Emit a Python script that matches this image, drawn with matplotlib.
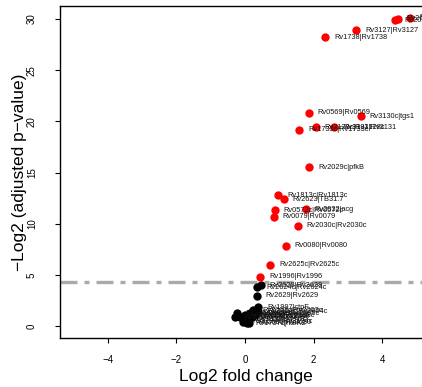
import numpy as np
import matplotlib.pyplot as plt

plt.rcParams['font.family'] = ['Liberation Sans', 'DejaVu Sans']

# significant genes (red)
sig_x = [4.38, 4.44, 4.81, 3.23, 2.33, 1.85, 3.37, 1.57, 2.06, 2.60,
         1.87, 0.97, 1.13, 0.86, 1.77, 0.83, 1.53, 1.18, 0.73, 0.44]
sig_y = [29.9, 30.0, 30.1, 28.9, 28.2, 20.85, 20.5, 19.2, 19.4, 19.4,
         15.5, 12.8, 12.4, 11.3, 11.4, 10.7, 9.8, 7.84, 6.0, 4.82]
sig_lab = ["Rv2031c|hspX", "Rv2626c|Rv2626c", "Rv2627c|Rv2627c", "Rv3127|Rv3127",
           "Rv1738|Rv1738", "Rv0569|Rv0569", "Rv3130c|tgs1", "Rv1733c|Rv1733c",
           "Rv3128c|Rv3128c", "Rv3131|Rv3131", "Rv2029c|pfkB", "Rv1813c|Rv1813c",
           "Rv2623|TB31.7", "Rv0572c|Rv0572c", "Rv2032|acg", "Rv0079|Rv0079",
           "Rv2030c|Rv2030c", "Rv0080|Rv0080", "Rv2625c|Rv2625c", "Rv1996|Rv1996"]

# not significant (black)
ns_x = [0.46, 0.36, 0.34, 0.38, 0.24, 0.39, 0.15, -0.24, 0.29, 0.00,
        -0.15, 0.19, 0.10, -0.05, 0.05, -0.30, 0.12]
ns_y = [4.0, 3.78, 2.97, 1.85, 1.56, 1.40, 1.24, 1.24, 1.07, 1.07,
        0.91, 0.91, 0.59, 0.42, 0.26, 0.85, 0.30]
ns_lab = ["Rv2628|Rv2628", "Rv2624c|Rv2624c", "Rv2629|Rv2629", "Rv1997|ctpF",
          "Rv2003c|Rv2003c", "Rv2004c|Rv2004c", "Rv2005c|Rv2005c", "Rv2006|otsB1",
          "Rv2007c|fdxA", "Rv2028c|Rv2028c", "Rv3126c|Rv3126c", "Rv3132c|devS",
          "Rv3133c|devR", "Rv3134c|Rv3134c", "Rv1737c|narK2", "Rv1736c|narX",
          "Rv2630|Rv2630"]

threshold = 4.32

fig = plt.figure(figsize=(4.22, 3.87), dpi=100)
ax = fig.add_axes([60/422, 1-338/387, 362/422, 332/387])

ax.scatter(ns_x, ns_y, s=36, color='black', linewidths=0, zorder=3)
ax.scatter(sig_x, sig_y, s=36, color='red', linewidths=0, zorder=3)

for x, y, t in zip(ns_x + sig_x, ns_y + sig_y, ns_lab + sig_lab):
    ax.annotate(t, (x, y), xytext=(6.5, 0), textcoords='offset points',
                ha='left', va='center', fontsize=5.3, color='#111111', zorder=4)

ln = ax.axhline(threshold, color='#aaaaaa', lw=2.4, zorder=2)
ln.set_dashes([5.1, 2.1, 1.5, 2.1])
ln.set_dash_capstyle('butt')

ax.set_xlim(-5.386, 5.153)
ax.set_ylim(-1.17, 31.27)
ax.set_xticks([-4, -2, 0, 2, 4])
ax.set_yticks([0, 5, 10, 15, 20, 25, 30])
ax.spines['right'].set_visible(False)
for s in ['left', 'top', 'bottom']:
    ax.spines[s].set_linewidth(1.0)
ax.tick_params(axis='both', direction='out', length=3.6, width=0.8, labelsize=7)
ax.tick_params(axis='x', pad=8.5)
ax.tick_params(axis='y', pad=13, labelrotation=90)
for t in ax.get_yticklabels():
    t.set_va('center')

fig.text(245.5/422, 1-377/387, "Log2 fold change", ha='center', va='center', fontsize=12.5)
fig.text(20/422, 1-172/387, "\u2212Log2 (adjusted p\u2212value)", ha='center', va='center',
         rotation=90, fontsize=12.5)

plt.savefig('out.png', dpi=100)
